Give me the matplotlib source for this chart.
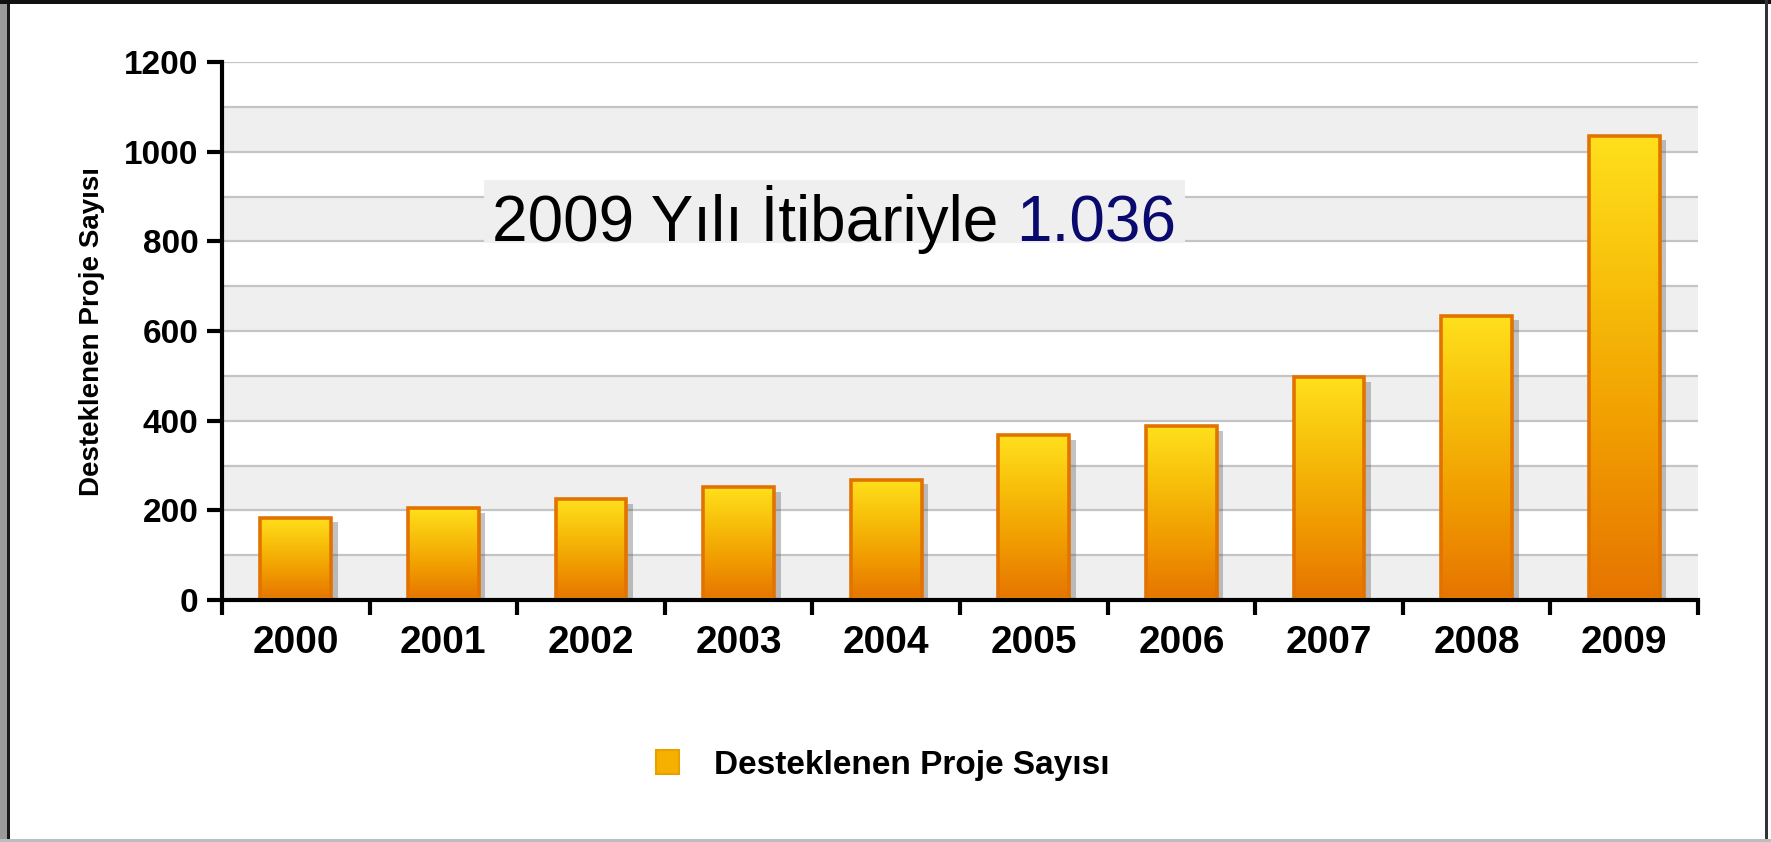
import numpy as np
import matplotlib
matplotlib.use("Agg")
import matplotlib.pyplot as plt
from matplotlib.patches import Rectangle
from matplotlib.colors import LinearSegmentedColormap

years = ["2000", "2001", "2002", "2003", "2004", "2005", "2006", "2007", "2008", "2009"]
projects = [183, 205, 225, 252, 268, 367, 388, 497, 634, 1036]
y_ticks = [0, 200, 400, 600, 800, 1000, 1200]
series_name = "Desteklenen Proje Sayısı"
note_text = "2009 Yılı İtibariyle "
note_value = "1.036"

W, H = 1771, 842
plt.rcParams['font.family'] = ['Liberation Sans', 'DejaVu Sans']

fig = plt.figure(figsize=(W / 100, H / 100), dpi=100)
ax = fig.add_axes([222 / W, 1 - 600 / H, (1698 - 222) / W, (600 - 62) / H])

# alternating bands and grid
for lo in range(0, 1200, 200):
    ax.axhspan(lo, lo + 100, color='#efefef', lw=0, zorder=0)
for g in range(100, 1201, 100):
    ax.axhline(g, color='#c4c4c4', lw=1.6, zorder=1)

grad_cmap = LinearSegmentedColormap.from_list(
    "bar", ["#e67400", "#f09a00", "#f7be0a", "#ffe01c"])
grad = np.linspace(0, 1, 256).reshape(-1, 1)

bw = 0.48
x = np.arange(len(years))
for xi, v in zip(x, projects):
    x0 = xi - bw / 2
    # soft shadow on the right
    ax.add_patch(Rectangle((x0 + 0.045, 0), bw, v - 10, color='#555555',
                           alpha=0.35, lw=0, zorder=2))
    ax.imshow(grad, extent=[x0, x0 + bw, 0, v], aspect='auto', cmap=grad_cmap,
              origin='lower', zorder=3, interpolation='bilinear')
    ax.add_patch(Rectangle((x0, 0), bw, v, fill=False, edgecolor='#e27300',
                           lw=2.6, zorder=4))
    ax.plot([x0, x0 + bw], [3, 3], color='#ffd000', lw=2.5, zorder=5,
            solid_capstyle='butt')

ax.set_xlim(-0.5, len(years) - 0.5)
ax.set_ylim(0, 1200)

for s in ['top', 'right']:
    ax.spines[s].set_visible(False)
for s in ['left', 'bottom']:
    ax.spines[s].set_linewidth(3)
    ax.spines[s].set_color('black')
ax.spines['bottom'].set_zorder(6)

ax.set_yticks(y_ticks)
ax.set_yticklabels([str(t) for t in y_ticks], fontsize=24, fontweight='bold')
ax.tick_params(axis='y', length=11, width=3, pad=6)

ax.set_xticks(np.arange(-0.5, len(years), 1.0))
ax.set_xticklabels([])
ax.tick_params(axis='x', which='major', length=11, width=3, direction='out')
ax.set_xticks(x, minor=True)
ax.set_xticklabels(years, minor=True, fontsize=28, fontweight='bold')
ax.tick_params(axis='x', which='minor', length=0, pad=18)

ax.set_ylabel(series_name, fontsize=20, fontweight='bold')
ax.yaxis.set_label_coords(-0.079, 0.5)

# annotation with grey backing box
ax.add_patch(Rectangle((484 / W, 1 - 243 / H), (1185 - 484) / W, (243 - 180) / H,
                       transform=fig.transFigure, color='#efefef', lw=0, zorder=5,
                       clip_on=False))
fig.text(1016 / W, 1 - 241 / H, note_text, fontsize=46, color='black',
         ha='right', va='baseline', zorder=7)
fig.text(1016 / W, 1 - 241 / H, note_value, fontsize=46, color='#0a0a6e',
         ha='left', va='baseline', zorder=7)

handle = Rectangle((0, 0), 1, 1, facecolor='#f6b000', edgecolor='#e8a000', lw=1.5)
fig.legend([handle], [series_name], loc='center', bbox_to_anchor=(0.4985, 0.091),
           frameon=False, prop={'size': 24, 'weight': 'bold'},
           handlelength=0.7, handleheight=0.75, handletextpad=1.05)

# outer frame
fig.add_artist(Rectangle((0, 0), 7 / W, 1, transform=fig.transFigure,
                         color='#9a9a9a', lw=0))
fig.add_artist(Rectangle((7 / W, 0), 3 / W, 1, transform=fig.transFigure,
                         color='#1a1a1a', lw=0))
fig.add_artist(Rectangle((0, 1 - 4 / H), 1, 4 / H, transform=fig.transFigure,
                         color='#111111', lw=0))
fig.add_artist(Rectangle((1765 / W, 0), 3 / W, 1, transform=fig.transFigure,
                         color='#333333', lw=0))
fig.add_artist(Rectangle((0, 0), 1, 3 / H, transform=fig.transFigure,
                         color='#bdbdbd', lw=0))

fig.savefig("out.png", dpi=100)
